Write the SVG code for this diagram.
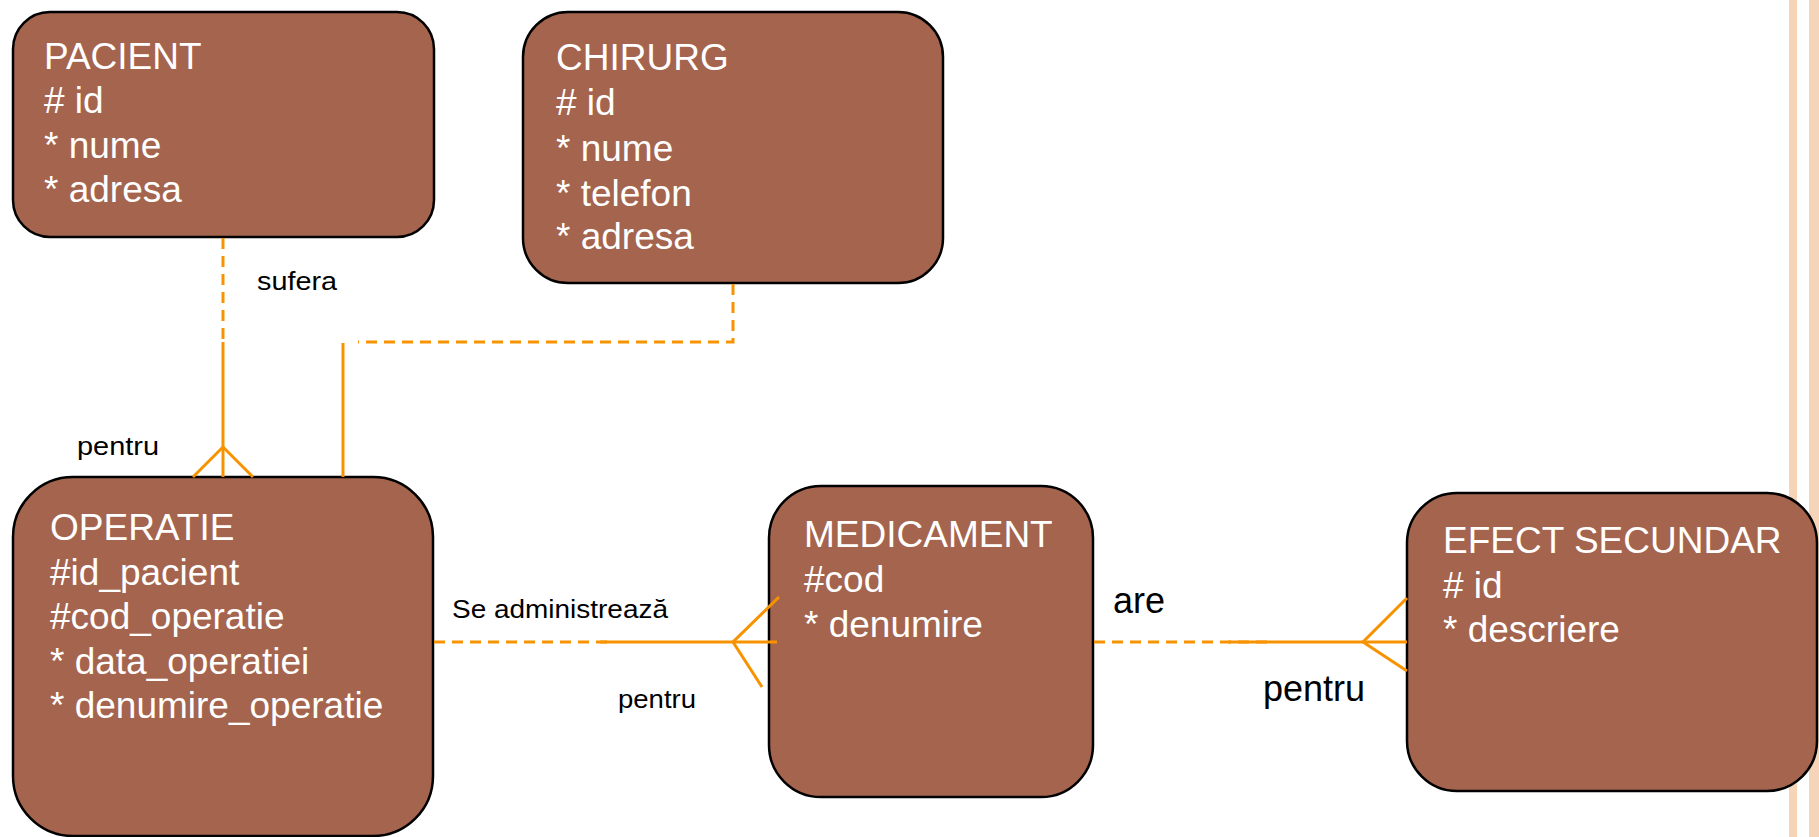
<svg xmlns="http://www.w3.org/2000/svg" width="1819" height="837" viewBox="0 0 1819 837">
<style>
.box{fill:#A4644E;stroke:#000;stroke-width:2.5}
.t{font-family:"Liberation Sans",Arial,sans-serif;font-size:37px;fill:#fff}
.lbl{font-family:"Liberation Sans",Arial,sans-serif;fill:#000}
.dash{stroke:#F79300;stroke-width:3;fill:none;stroke-dasharray:11 7}
.sol{stroke:#F79300;stroke-width:3;fill:none}
.stripe{fill:#F6D4B8}
</style>
<rect width="1819" height="837" fill="#fff"/>
<rect class="stripe" x="1789" y="0" width="8" height="837"/>
<rect class="stripe" x="1809" y="0" width="10" height="837"/>

<g id="pacient">
<rect class="box" x="13" y="12" width="421" height="225" rx="37" ry="37"/>
<text class="t" x="44" y="69">PACIENT</text>
<text class="t" x="44" y="113"># id</text>
<text class="t" x="44" y="158">* nume</text>
<text class="t" x="44" y="202">* adresa</text>
</g>

<g id="chirurg">
<rect class="box" x="523" y="12" width="420" height="271" rx="45" ry="45"/>
<text class="t" x="556" y="70">CHIRURG</text>
<text class="t" x="556" y="115"># id</text>
<text class="t" x="556" y="161">* nume</text>
<text class="t" x="556" y="206">* telefon</text>
<text class="t" x="556" y="249">* adresa</text>
</g>

<g id="operatie">
<rect class="box" x="13" y="477" width="420" height="359" rx="60" ry="60"/>
<text class="t" x="50" y="540">OPERATIE</text>
<text class="t" x="50" y="585">#id_pacient</text>
<text class="t" x="50" y="629">#cod_operatie</text>
<text class="t" x="50" y="674">* data_operatiei</text>
<text class="t" x="50" y="718">* denumire_operatie</text>
</g>

<g id="medicament">
<rect class="box" x="769" y="486" width="324" height="311" rx="52" ry="52"/>
<text class="t" x="804" y="547">MEDICAMENT</text>
<text class="t" x="804" y="592">#cod</text>
<text class="t" x="804" y="637">* denumire</text>
</g>

<g id="efect-secundar">
<rect class="box" x="1407" y="493" width="410" height="298" rx="50" ry="50"/>
<text class="t" x="1443" y="553">EFECT SECUNDAR</text>
<text class="t" x="1443" y="598"># id</text>
<text class="t" x="1443" y="642">* descriere</text>
</g>

<g id="connectors">
<line class="dash" x1="223" y1="238" x2="223" y2="341"/>
<line class="sol" x1="223" y1="342" x2="223" y2="477"/>
<polyline class="sol" points="193,477 223,447 253,477"/>
<polyline class="dash" points="733,284 733,342 358,342"/>
<line class="sol" x1="343" y1="343" x2="343" y2="477"/>
<line class="dash" x1="434" y1="642" x2="610" y2="642"/>
<line class="sol" x1="600" y1="642" x2="777" y2="642"/>
<polyline class="sol" points="779,597 733,642 762,687"/>
<line class="dash" x1="1094" y1="642" x2="1272" y2="642"/>
<line class="sol" x1="1228" y1="642" x2="1407" y2="642"/>
<polyline class="sol" points="1407,598 1363,642 1407,671"/>
</g>

<g id="labels">
<text class="lbl" x="257" y="290" font-size="26" textLength="80" lengthAdjust="spacingAndGlyphs">sufera</text>
<text class="lbl" x="77" y="455" font-size="26" textLength="82" lengthAdjust="spacingAndGlyphs">pentru</text>
<text class="lbl" x="452" y="618" font-size="26" textLength="216" lengthAdjust="spacingAndGlyphs">Se administrează</text>
<text class="lbl" x="618" y="708" font-size="26" textLength="78" lengthAdjust="spacingAndGlyphs">pentru</text>
<text class="lbl" x="1113" y="613" font-size="36">are</text>
<text class="lbl" x="1263" y="701" font-size="36">pentru</text>
</g>
</svg>
